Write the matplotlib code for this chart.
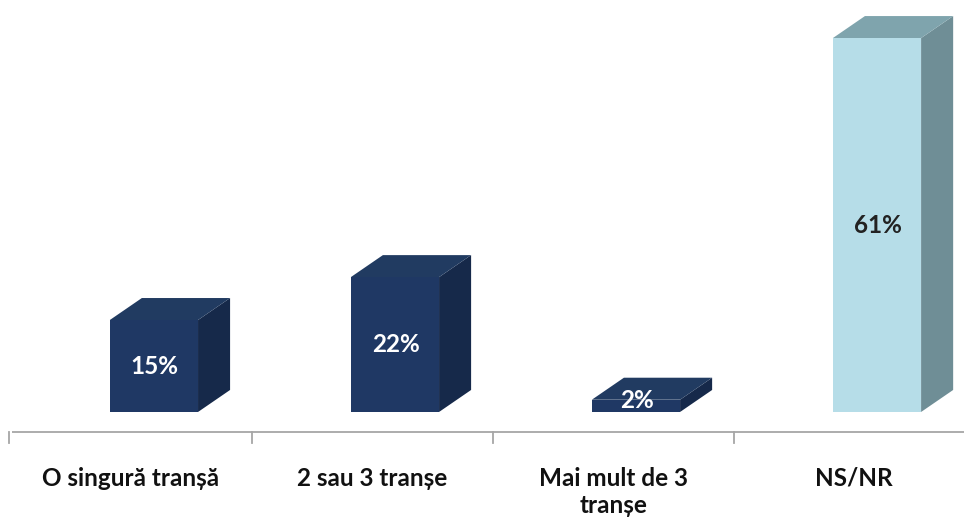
import matplotlib.pyplot as plt
from matplotlib.patches import Polygon

# data
categories = ['O singură tranșă', '2 sau 3 tranșe', 'Mai mult de 3\ntranșe', 'NS/NR']
values = [15, 22, 2, 61]
labels = ['15%', '22%', '2%', '61%']

# colours per bar: front, top, side, label
dark = ('#1F3864', '#213B61', '#16294A', 'white')
light = ('#B6DDE8', '#7FA4AD', '#6F8E96', '#222222')
styles = [dark, dark, dark, light]

plt.rcParams['font.family'] = ['Lato', 'DejaVu Sans']

fig = plt.figure(figsize=(9.64, 5.19), dpi=100)
ax = fig.add_axes([0, 0, 1, 1])
ax.set_xlim(-0.5436, 3.456)
ax.set_ylim(-17.46, 67.21)
ax.axis('off')

shift = 0.095   # bars sit a bit right of the category centre
hw = 0.183      # half width of bar front
dx = 0.133      # depth offset x
dy = 3.59       # depth offset y

for i, (v, st) in enumerate(zip(values, styles)):
    front, top, side, tc = st
    c = i + shift
    x0, x1 = c - hw, c + hw
    ax.add_patch(Polygon([(x1, 0), (x1 + dx, dy), (x1 + dx, v + dy), (x1, v)],
                         closed=True, facecolor=side, edgecolor='none'))
    ax.add_patch(Polygon([(x0, v), (x1, v), (x1 + dx, v + dy), (x0 + dx, v + dy)],
                         closed=True, facecolor=top, edgecolor='none'))
    ax.add_patch(Polygon([(x0, 0), (x1, 0), (x1, v), (x0, v)],
                         closed=True, facecolor=front, edgecolor='none'))
    ty = v / 2 if v > 5 else v / 2 + 0.8
    ax.text(c + 0.004, ty, labels[i], ha='center', va='center', color=tc,
            fontsize=17.5, fontweight='bold')

# category axis
axis_y = -3.26
ax.plot([-0.494, 3.456], [axis_y, axis_y], color='#A6A6A6', lw=1.3, solid_capstyle='butt')
for k in range(4):
    tx = k - 0.506 if k == 0 else k - 0.5
    ax.plot([tx, tx], [axis_y, axis_y - 1.8], color='#A6A6A6', lw=1.3)

for i, c in enumerate(categories):
    ax.text(i, -8.9, c, ha='center', va='top', fontsize=17.5,
            color='#111111', fontweight='bold', linespacing=1.22)

fig.savefig('out.png', dpi=100, facecolor='white')
